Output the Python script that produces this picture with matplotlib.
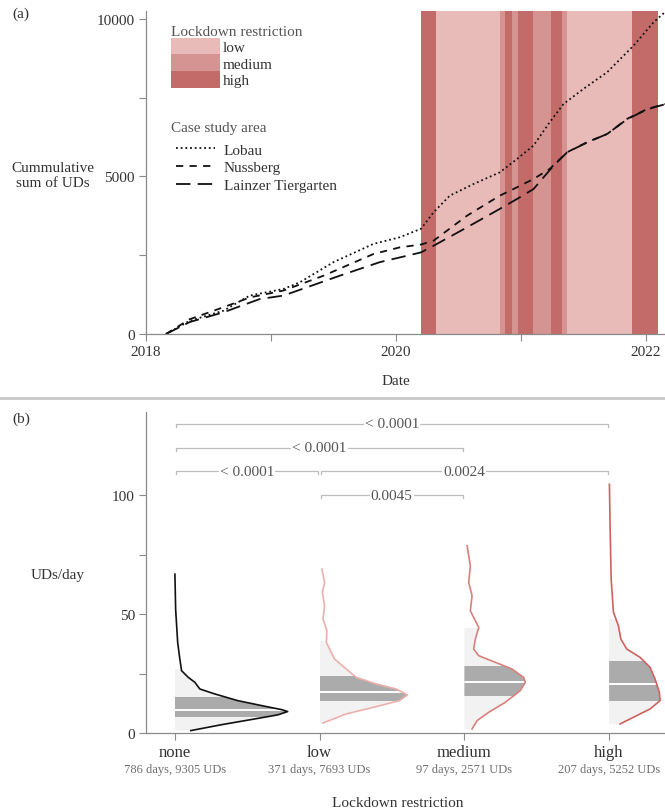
import numpy as np
import matplotlib
matplotlib.use("Agg")
import matplotlib.pyplot as plt
import matplotlib.transforms as mtransforms
from matplotlib.patches import Patch, Polygon, Rectangle
from matplotlib.lines import Line2D

plt.rcParams['font.family'] = ['Liberation Serif', 'DejaVu Serif']
plt.rcParams['font.size'] = 11

# ---- panel (a): cumulative sums, x in decimal years ----
lobau_t = [2018.16, 2018.35, 2018.62, 2018.83, 2019.10, 2019.23, 2019.50, 2019.82,
           2020.03, 2020.20, 2020.30, 2020.43, 2020.62, 2020.83, 2020.97, 2021.10,
           2021.23, 2021.34, 2021.50, 2021.69, 2021.90, 2022.06, 2022.15]
lobau_v = [0, 420, 740, 1220, 1430, 1640, 2280, 2860,
           3070, 3340, 3860, 4390, 4760, 5130, 5560, 5980,
           6720, 7300, 7780, 8310, 9150, 9890, 10210]

nussberg_t = [2018.16, 2018.35, 2018.62, 2018.83, 2019.10, 2019.42, 2019.82, 2020.03,
              2020.20, 2020.30, 2020.57, 2020.83, 2020.97, 2021.10, 2021.23, 2021.37,
              2021.53, 2021.69, 2021.85, 2022.01, 2022.15]
nussberg_v = [0, 470, 850, 1160, 1380, 1850, 2540, 2750,
              2840, 2960, 3760, 4390, 4660, 4920, 5240, 5770,
              6090, 6350, 6830, 7140, 7300]

lainzer_t = [2018.16, 2018.35, 2018.62, 2018.91, 2019.10, 2019.55, 2019.87, 2020.20,
             2020.30, 2020.57, 2020.83, 2020.97, 2021.10, 2021.26, 2021.37, 2021.53,
             2021.69, 2021.85, 2022.01, 2022.15]
lainzer_v = [0, 380, 690, 1110, 1220, 1850, 2280, 2590,
             2800, 3390, 3970, 4290, 4600, 5340, 5770, 6080,
             6350, 6820, 7130, 7290]

# lockdown periods (start, end, level)
band_edges = [2020.198, 2020.320, 2020.832, 2020.872, 2020.926, 2020.978,
              2021.098, 2021.240, 2021.328, 2021.370, 2021.886, 2022.098]
band_levels = ['high', 'low', 'medium', 'high', 'medium', 'high',
               'medium', 'high', 'medium', 'low', 'high']
band_colors = {'low': '#e8bab8', 'medium': '#d59391', 'high': '#c26b69'}

# ---- panel (b): UDs/day distributions ----
groups = ['none', 'low', 'medium', 'high']
group_info = ['786 days, 9305 UDs', '371 days, 7693 UDs',
              '97 days, 2571 UDs', '207 days, 5252 UDs']
curve_colors = ['#111111', '#ebb0ab', '#d8807b', '#cf625e']

dens_y = [
    [66.8, 52, 38.1, 31.1, 26.2, 23.4, 21.3, 18.5, 16.4, 13.6, 11.5, 9.8, 9.0, 7.6, 5.9, 3.5, 1.0],
    [68.9, 63.3, 59.1, 53.5, 47.9, 43, 38.1, 31.1, 26.9, 23.4, 20.6, 18.5, 16.0, 13.6, 11.1, 8.0, 4.2],
    [78.7, 70.3, 63.3, 57.7, 51.4, 44.4, 39.5, 35.3, 32.5, 29.7, 26.9, 23.4, 21.3, 17.8, 12.9, 8.7, 5.2, 1.7],
    [104.6, 85.7, 64.7, 50.7, 45.1, 39.5, 35.3, 31.8, 27.6, 22.7, 17.1, 13.6, 10.1, 6.6, 3.8],
]
dens_w = [
    [0, .005, .019, .034, .046, .092, .138, .172, .276, .434, .6, .738, .779, .71, .552, .324, .11],
    [.016, .034, .019, .034, .023, .05, .046, .103, .184, .253, .391, .529, .607, .552, .391, .184, .023],
    [.019, .041, .03, .053, .041, .099, .076, .064, .099, .214, .329, .409, .421, .386, .283, .168, .088, .053],
    [.002, .007, .014, .03, .064, .081, .122, .214, .283, .317, .347, .352, .283, .168, .076],
]
range_lo = [1.0, 4.2, 1.7, 3.8]
range_hi = [26.9, 38.8, 44.0, 48.0]
q1 = [6.6, 13.6, 15.7, 13.6]
q3 = [15.0, 24.1, 28.0, 30.3]
medians = [9.8, 17.1, 21.6, 20.6]

pairs = [(0, 3), (0, 2), (0, 1), (1, 3), (1, 2)]
pvals = ['< 0.0001', '< 0.0001', '< 0.0001', '0.0024', '0.0045']
p_levels = [130, 120, 110, 110, 100]

TXT = '#333333'
GRID = '#8a8a8a'

fig = plt.figure(figsize=(6.65, 8.12), dpi=100)
ax1 = fig.add_axes([0.2195, 0.5874, 0.7805, 0.3978])
ax2 = fig.add_axes([0.2195, 0.0961, 0.7805, 0.3953])

for ax in (ax1, ax2):
    for s in ('top', 'right'):
        ax.spines[s].set_visible(False)
    for s in ('left', 'bottom'):
        ax.spines[s].set_color(GRID)
        ax.spines[s].set_linewidth(0.9)
    ax.tick_params(which='both', direction='out', length=5, width=0.8,
                   color=GRID, labelcolor=TXT, pad=3)

# --- (a) ---
for i, lvl in enumerate(band_levels):
    ax1.axvspan(band_edges[i], band_edges[i + 1], color=band_colors[lvl], lw=0, zorder=0)

ax1.plot(lobau_t, lobau_v, color='#111111', lw=1.3, ls=(0, (1, 1.6)), label='Lobau')
ax1.plot(nussberg_t, nussberg_v, color='#111111', lw=1.3, ls=(0, (4, 3.5)), label='Nussberg')
ax1.plot(lainzer_t, lainzer_v, color='#111111', lw=1.3, ls=(0, (8, 4)), label='Lainzer Tiergarten')

ax1.set_xlim(2018.0, 2022.152)
ax1.set_ylim(0, 10250)
ax1.set_xticks([2018, 2020, 2022], ['2018', '2020', '2022'])
ax1.set_xticks([2019, 2021], minor=True)
ax1.set_yticks([0, 5000, 10000], ['0', '5000', '10000'])
ax1.set_yticks([2500, 7500], minor=True)

ax1.set_xlabel('Date', color=TXT)
ax1.xaxis.set_label_coords(0.482, -0.123)
ax1.set_ylabel('Cummulative\nsum of UDs', rotation=0, color=TXT, ha='center', va='center',
               linespacing=1.25)
ax1.yaxis.set_label_coords(-0.179, 0.492)

leg1 = ax1.legend(handles=[Patch(color=band_colors[k], lw=0) for k in ('low', 'medium', 'high')],
                  labels=['low', 'medium', 'high'], title='Lockdown restriction',
                  loc='upper left', bbox_to_anchor=(0.048, 0.958), frameon=False,
                  borderpad=0, labelspacing=0, handlelength=3.2, handleheight=1.3,
                  handletextpad=0.2, alignment='left', labelcolor=TXT, borderaxespad=0)
leg1.get_title().set_color('#555555')
ax1.add_artist(leg1)

# case study legend: title as separate text so the entries sit a bit lower
ax1.text(0.048, 0.638, 'Case study area', transform=ax1.transAxes, ha='left', va='center',
         color='#555555')
ax1.legend(loc='upper left', bbox_to_anchor=(0.057, 0.592),
           frameon=False, borderpad=0, labelspacing=0.28, handlelength=2.6,
           handletextpad=0.55, labelcolor=TXT, borderaxespad=0)

# --- (b) ---
for i in range(len(groups)):
    y = np.array(dens_y[i])
    w = np.array(dens_w[i])
    verts = [(i, y[0])] + list(zip(i + w, y)) + [(i, y[-1])]
    clip = Polygon(verts, closed=True, transform=ax2.transData)

    light = Rectangle((i, range_lo[i]), 1.0, range_hi[i] - range_lo[i],
                      facecolor='#f2f2f2', edgecolor='none', zorder=1)
    ax2.add_patch(light)
    light.set_clip_path(clip)
    dark = Rectangle((i, q1[i]), 1.0, q3[i] - q1[i],
                     facecolor='#ababab', edgecolor='none', zorder=2)
    ax2.add_patch(dark)
    dark.set_clip_path(clip)
    med, = ax2.plot([i, i + 1.0], [medians[i], medians[i]], color='white', lw=1.4, zorder=3)
    med.set_clip_path(clip)

    ax2.plot(i + w, y, color=curve_colors[i], lw=1.2, zorder=4)

for (a, b), p, lv in zip(pairs, pvals, p_levels):
    xa, xb = a + 0.007, b - 0.01
    ax2.plot([xa, xa, xb, xb], [lv - 1.2, lv, lv, lv - 1.2], color='#bdbdbd', lw=0.9,
             clip_on=False, zorder=1)
    ax2.text((xa + xb) / 2, lv, p, ha='center', va='center', color='#555555', fontsize=11,
             bbox=dict(facecolor='white', edgecolor='none', pad=0.8), zorder=2)

ax2.set_xlim(-0.2, 3.386)
ax2.set_ylim(0, 135)
ax2.set_xticks(range(len(groups)), groups, fontsize=12)
ax2.set_yticks([0, 50, 100], ['0', '50', '100'])
ax2.set_yticks([25, 75], minor=True)

trans = mtransforms.blended_transform_factory(ax2.transData, ax2.transAxes)
for i, info in enumerate(group_info):
    ax2.text(i, -0.112, info, transform=trans, ha='center', va='center',
             fontsize=9, color='#6e6e6e')

ax2.set_xlabel('Lockdown restriction', color=TXT)
ax2.xaxis.set_label_coords(0.486, -0.196)
ax2.set_ylabel('UDs/day', rotation=0, color=TXT, ha='center', va='center')
ax2.yaxis.set_label_coords(-0.171, 0.495)

fig.add_artist(Line2D([0, 1], [1 - 399 / 812] * 2, color='#c8c8c8', lw=2,
                      transform=fig.transFigure))
fig.text(0.018, 0.982, '(a)', ha='left', va='center', color=TXT)
fig.text(0.018, 0.484, '(b)', ha='left', va='center', color=TXT)

fig.savefig('out.png', dpi=100)
